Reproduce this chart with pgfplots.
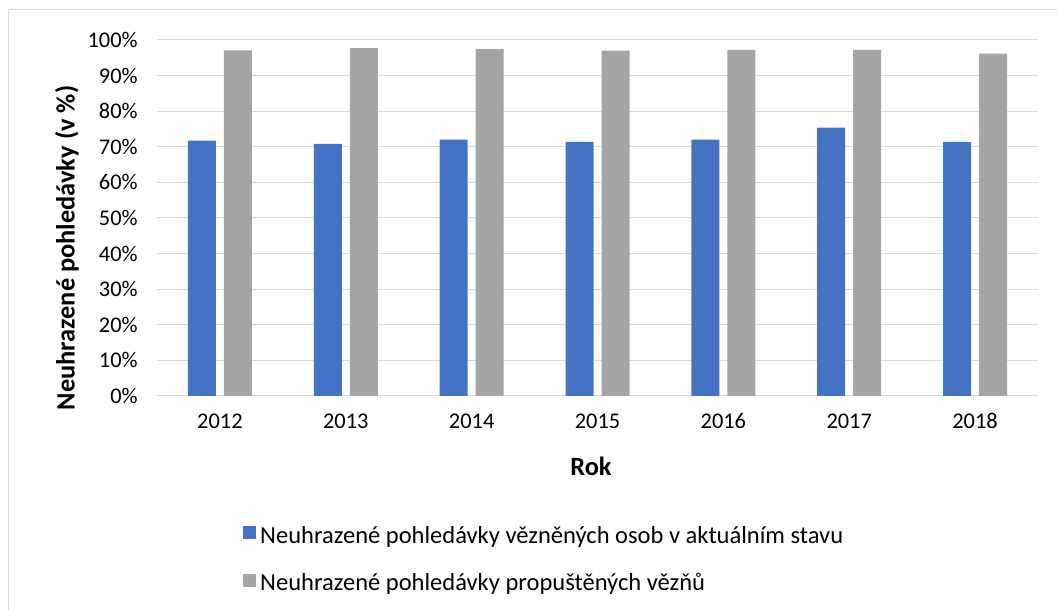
\documentclass[border=0pt]{standalone}
\usepackage{pgfplots}
\pgfplotsset{compat=1.18}
\usepackage{fontspec}
\setmainfont{Carlito}
\definecolor{cblue}{HTML}{4472C4}
\definecolor{cgray}{HTML}{A5A5A5}
\definecolor{cgrid}{HTML}{D9D9D9}
\definecolor{cframe}{HTML}{D9D9D9}
\newcommand{\chartfont}{\fontsize{16.8}{19}\selectfont}
\newcommand{\legfont}{\fontsize{18.4}{21}\selectfont}
\newcommand{\labfont}{\fontsize{19.8}{22}\selectfont}
\begin{document}
\begin{tikzpicture}
\path[use as bounding box] (0,0) rectangle (792.75pt,457.5pt);
\draw[cframe, line width=0.75pt] (6pt,0) -- (6pt,450pt) -- (792.75pt,450pt);
\begin{axis}[
  at={(117.75pt,160.5pt)}, anchor=south west,
  scale only axis, width=660.75pt, height=267pt,
  ymin=0, ymax=100, xmin=-0.5, xmax=6.5,
  ybar=6pt, bar width=21pt,
  xtick={0,1,2,3,4,5,6},
  xticklabels={2012,2013,2014,2015,2016,2017,2018},
  ytick={0,10,...,100},
  yticklabel={\pgfmathprintnumber{\tick}\%},
  /pgf/number format/assume math mode=true,
  ymajorgrids, grid style={cgrid, line width=0.75pt},
  axis x line*=bottom, axis y line*=left,
  x axis line style={cgrid, line width=0.75pt, -},
  y axis line style={draw=none},
  major tick length=0pt, tick style={draw=none},
  tick label style={font=\chartfont, text=black},
  xticklabel style={text height=11pt, text depth=0pt, anchor=north},
  yticklabel shift=11pt,
  xticklabel shift=10pt,
  legend style={at={(0.0976,-0.365)}, anchor=north west, draw=none, fill=none,
    inner sep=0pt, font=\legfont, legend cell align=left, row sep=18pt,
    nodes={text height=13pt, text depth=4.5pt, inner sep=0pt},
    /tikz/every odd column/.append style={column sep=3pt}},
]
\addplot[fill=cblue, draw=none,
  legend image code/.code={\fill[cblue] (0pt,-1pt) rectangle (9.75pt,8.75pt);}]
  coordinates {(0,71.7) (1,70.8) (2,72.0) (3,71.4) (4,72.0) (5,75.4) (6,71.4)};
\addlegendentry{Neuhrazené pohledávky vězněných osob v aktuálním stavu}
\addplot[fill=cgray, draw=none,
  legend image code/.code={\fill[cgray] (0pt,-1pt) rectangle (9.75pt,8.75pt);}]
  coordinates {(0,97.1) (1,97.7) (2,97.4) (3,97.0) (4,97.2) (5,97.2) (6,96.2)};
\addlegendentry{Neuhrazené pohledávky propuštěných vězňů}
\end{axis}
\node[rotate=90, font=\bfseries\labfont] at (50.25pt,271.5pt) {Neuhrazené pohledávky (v \%)};
\node[font=\bfseries\labfont] at (443.25pt,108pt) {Rok};
\end{tikzpicture}
\end{document}
